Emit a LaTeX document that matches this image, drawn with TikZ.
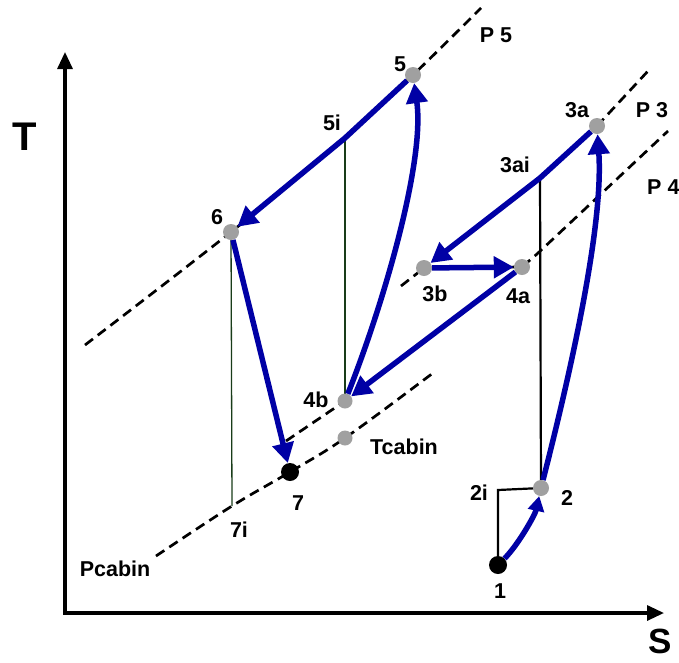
\documentclass[tikz,border=0pt]{standalone}
\usepackage{fontspec}
\setmainfont{Liberation Sans}
\usetikzlibrary{arrows.meta}
\definecolor{cycleblue}{RGB}{0,0,165}
\definecolor{dotgray}{RGB}{160,160,160}
\definecolor{thingreen}{RGB}{25,60,25}
\begin{document}
\begin{tikzpicture}[x=1pt,y=-1pt,
  lbl/.style={font=\bfseries\fontsize{21.5}{25}\selectfont, inner sep=0pt},
  axlbl/.style={font=\bfseries\fontsize{40}{48}\selectfont, inner sep=0pt},
  gdot/.style={circle, fill=dotgray, minimum size=16pt, inner sep=0pt},
  bdot/.style={circle, fill=black, minimum size=18pt, inner sep=0pt},
  flow/.style={draw=cycleblue, line width=5.5pt, line join=round,
    -{Triangle[length=20pt,width=21pt]}},
  isobar/.style={draw=black, line width=2.7pt, dash pattern=on 10pt off 6pt},
  thinline/.style={draw=thingreen, line width=1.3pt},
  medline/.style={draw=black, line width=2.2pt},
  axis/.style={draw=black, line width=3.2pt, line join=miter}
]
\useasboundingbox (0,0) rectangle (679,662);
\fill[white] (0,0) rectangle (679,662);

% key points
\coordinate (c1) at (498,565);
\coordinate (c2) at (541,488);
\coordinate (c2i) at (498,490);
\coordinate (c3ai) at (540,178);
\coordinate (c3a) at (597,126);
\coordinate (c3b) at (424,268);
\coordinate (c4a) at (522,267);
\coordinate (c4b) at (345,401);
\coordinate (cTc) at (345,438);
\coordinate (c7) at (290,472);
\coordinate (c7i) at (232,506);
\coordinate (c6) at (231,232);
\coordinate (c5i) at (345,138);
\coordinate (c5) at (413,75);

% axes
\coordinate (O) at (65,613);
\coordinate (ytip) at (65,52);
\coordinate (xtip) at (664,613);
\draw[axis, {Triangle[length=17pt,width=15pt]}-{Triangle[length=17pt,width=15pt]}] (ytip) -- (O) -- (xtip);
\node[axlbl] (Tlab) at (25,137) {T};
\node[axlbl, font=\bfseries\fontsize{35}{42}\selectfont] (Slab) at (660,641) {S};

% isobars
\draw[isobar] plot[smooth, tension=0.6] coordinates {(85,345) (c6) (c5i) (c5) (481,8)};
\draw[isobar] (c3a) -- (648,71);
\draw[isobar] (401,286) -- (c3b) -- (c4a) -- (537,254) -- (668,131);
\draw[isobar] (286,441) -- (c4b);
\draw[isobar] plot[smooth, tension=0.6] coordinates {(156,556) (c7i) (c7) (cTc) (433,373)};

% construction lines
\draw[thinline] (c6) -- (c7i);
\draw[thinline] (c5i) -- (c4b);
\draw[medline] (c3ai) -- (c2);
\draw[medline] (c1) -- (c2i) -- (c2);

% state points
\node[bdot] (n1) at (c1) {};
\node[gdot] (n2) at (c2) {};
\node[gdot] (n3a) at (c3a) {};
\node[gdot] (n3b) at (c3b) {};
\node[gdot] (n4a) at (c4a) {};
\node[gdot, minimum size=15pt] (n4b) at (c4b) {};
\node[gdot, minimum size=15pt] (nTc) at (cTc) {};
\node[bdot] (n7) at (c7) {};
\node[gdot] (n6) at (c6) {};
\node[gdot] (n5) at (c5) {};

% cycle
\draw[flow, -{Triangle[length=15pt,width=16pt]}] (n1) .. controls (518,545) and (535,515) .. (n2);
\draw[flow] (n2) .. controls (566,390) and (604,230) .. (n3a);
\draw[flow] (n3a) -- (c3ai) -- (n3b);
\draw[flow] (n3b) -- (n4a);
\draw[flow] (n4a) -- (n4b);
\draw[flow] (n4b) .. controls (385,300) and (425,160) .. (n5);
\draw[flow] (n5) -- (c5i) -- (n6);
\draw[flow] (n6) -- (n7);

% labels
\node[lbl] (l1) at (500,591) {1};
\node[lbl] (l2) at (567,498) {2};
\node[lbl] (l2i) at (479,493) {2i};
\node[lbl] (l3ai) at (515,165) {3ai};
\node[lbl] (l3a) at (577,110) {3a};
\node[lbl] (l3b) at (435,294) {3b};
\node[lbl] (l4a) at (518,296) {4a};
\node[lbl] (l4b) at (316,400) {4b};
\node[lbl] (lTc) at (404,447) {Tcabin};
\node[lbl] (l7) at (298,503) {7};
\node[lbl] (l7i) at (239,530) {7i};
\node[lbl] (l6) at (217,217) {6};
\node[lbl] (l5i) at (332,123) {5i};
\node[lbl] (l5) at (400,64) {5};
\node[lbl] (lP5) at (496,35) {P 5};
\node[lbl] (lP3) at (652,110) {P 3};
\node[lbl, anchor=west] (lP4) at (647,187) {P 4};
\node[lbl] (lPc) at (115,569) {Pcabin};
\end{tikzpicture}
\end{document}
